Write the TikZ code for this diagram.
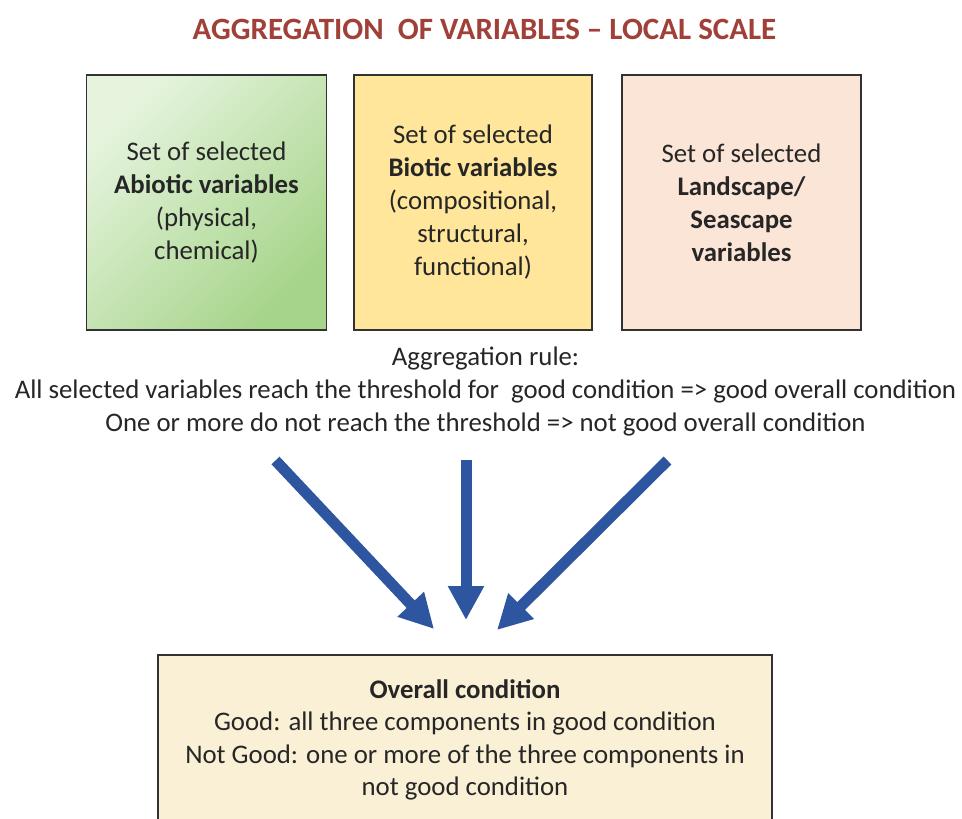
\documentclass[tikz,border=0pt]{standalone}
\usepackage{fontspec}
\setmainfont{Carlito}
\usetikzlibrary{arrows.meta}
\definecolor{titlered}{RGB}{160,64,56}
\definecolor{txt}{RGB}{38,38,38}
\definecolor{bordc}{RGB}{50,50,50}
\definecolor{greenL}{RGB}{230,244,222}
\definecolor{greenD}{RGB}{166,212,138}
\definecolor{yellowL}{RGB}{255,230,155}
\definecolor{peach}{RGB}{251,229,214}
\definecolor{parch}{RGB}{250,240,214}
\definecolor{arrblue}{RGB}{46,86,160}
\tikzset{
  varbox/.style={draw=bordc, line width=1.4pt, align=center, text=txt,
    font=\fontsize{26.8}{33}\selectfont, minimum height=255pt, inner sep=0pt},
  bodytext/.style={align=center, text=txt, font=\fontsize{26.8}{33}\selectfont},
  bigarrow/.style={draw=arrblue, line width=11pt,
    -{Triangle[width=34pt,length=34pt]}, fill=arrblue}
}
\begin{document}
\begin{tikzpicture}[x=1pt,y=-1pt]
\useasboundingbox (0,0) rectangle (962,819);
\fill[white] (0,0) rectangle (962,819);

\node[text=titlered, font=\fontsize{31}{36}\selectfont\bfseries] (title) at (484.5,29)
  {AGGREGATION\ \ OF VARIABLES – LOCAL SCALE};

\node[varbox, minimum width=240pt, top color=greenL, bottom color=greenD, shading angle=45]
  (abio) at (206.5,202.5)
  {Set of selected\\\textbf{Abiotic variables}\\(physical,\\chemical)};
\node[varbox, minimum width=238pt, fill=yellowL] (bio) at (473,202.5)
  {Set of selected\\\textbf{Biotic variables}\\(compositional,\\structural,\\functional)};
\node[varbox, minimum width=239pt, fill=peach] (land) at (741.5,202.5)
  {Set of selected\\\textbf{Landscape/}\\\textbf{Seascape}\\\textbf{variables}};

\node[bodytext] (rule) at (485.5,391)
  {Aggregation rule:\\All selected variables reach the threshold for\ \ good condition => good overall condition\\One or more do not reach the threshold => not good overall condition};

\node[draw=bordc, line width=1.4pt, fill=parch, minimum width=614pt, minimum height=170pt,
  align=center, text=txt, font=\fontsize{26.8}{32.3}\selectfont, inner sep=0pt] (overall) at (465,740)
  {\textbf{Overall condition}\\Good: all three components in good condition\\Not Good: one or more of the three components in\\not good condition};

\coordinate (la) at (275.5,460.5);
\coordinate (lb) at (434,629);
\coordinate (ma) at (466,460);
\coordinate (mb) at (466,620);
\coordinate (ra) at (667.5,460.5);
\coordinate (rb) at (497,630);
\draw[bigarrow] (la) -- (lb);
\draw[bigarrow] (ma) -- (mb);
\draw[bigarrow] (ra) -- (rb);
\end{tikzpicture}
\end{document}
